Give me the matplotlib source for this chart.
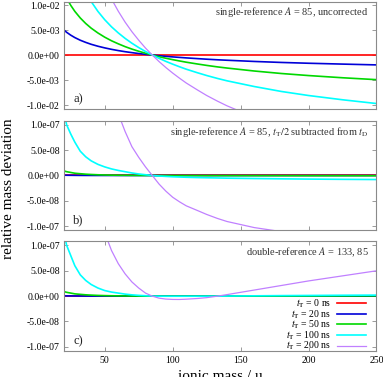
import numpy as np
import matplotlib
matplotlib.use("Agg")
import matplotlib.pyplot as plt
from matplotlib.ticker import FuncFormatter

# ionic mass grid (u)
mass = [20, 22, 25, 28, 32, 36, 40, 45, 50, 55,
        60, 65, 70, 75, 80, 85, 90, 95, 100, 105,
        110, 118, 125, 133, 140, 160, 180, 200, 225, 250]

t_trap = [0, 20, 50, 100, 200]  # ns
colors = ["#ff0000", "#0000d8", "#00d800", "#00ffff", "#c080ff"]

# a) single-reference A=85, uncorrected  (units 1e-3)
a_0 = [0.0] * len(mass)
a_20 = [5.00, 4.54, 3.97, 3.49, 2.96, 2.53, 2.15, 1.76, 1.43, 1.14,
        0.89, 0.67, 0.48, 0.30, 0.14, 0, -0.13, -0.26, -0.37, -0.47,
        -0.57, -0.71, -0.83, -0.95, -1.04, -1.28, -1.48, -1.64, -1.81, -1.97]
a_50 = [12.49, 11.36, 9.93, 8.73, 7.41, 6.31, 5.38, 4.41, 3.57, 2.85,
        2.24, 1.68, 1.19, 0.76, 0.36, 0, -0.34, -0.64, -0.92, -1.18,
        -1.43, -1.78, -2.07, -2.37, -2.60, -3.19, -3.69, -4.10, -4.54, -4.92]
a_100 = [24.8, 22.6, 19.7, 17.3, 14.7, 12.5, 10.7, 8.72, 7.06, 5.64,
         4.42, 3.33, 2.36, 1.50, 0.71, 0, -0.66, -1.27, -1.82, -2.34,
         -2.83, -3.52, -4.09, -4.68, -5.15, -6.29, -7.28, -8.09, -8.94, -9.69]
a_200 = [49.4, 44.9, 39.2, 34.4, 29.2, 24.8, 21.1, 17.3, 14.0, 11.2,
         8.75, 6.58, 4.67, 2.97, 1.40, 0, -1.31, -2.50, -3.60, -4.62,
         -5.59, -6.94, -8.08, -9.22, -10.15, -12.43, -14.37, -15.97, -17.64, -19.12]

# b) single-reference A=85, tT/2 subtracted  (units 1e-7)
b_0 = [0.0] * len(mass)
b_20 = [0.006, 0.005, 0.004, 0.003, 0.002, 0.0015, 0.001, 0.0008, 0.0006, 0.0004,
        0.0003, 0.0002, 0.0001, 0.0001, 0, 0, 0, 0, -0.0001, -0.0001,
        -0.0001, -0.0001, -0.0001, -0.0002, -0.0002, -0.0002, -0.0002, -0.0003, -0.0003, -0.0003]
b_50 = [0.09, 0.075, 0.06, 0.045, 0.035, 0.026, 0.02, 0.014, 0.01, 0.007,
        0.005, 0.0035, 0.002, 0.001, 0.0005, 0, -0.0005, -0.0008, -0.001, -0.0012,
        -0.0015, -0.0018, -0.002, -0.0022, -0.0025, -0.003, -0.0035, -0.004, -0.0045, -0.005]
b_100 = [1.25, 1.0, 0.82, 0.66, 0.48, 0.37, 0.29, 0.22, 0.17, 0.13,
         0.10, 0.075, 0.05, 0.03, 0.015, 0, -0.01, -0.018, -0.025, -0.03,
         -0.035, -0.041, -0.045, -0.049, -0.053, -0.06, -0.066, -0.071, -0.076, -0.08]
b_200 = [25, 20, 14, 10.5, 7.5, 5.5, 4.2, 3.0, 2.2, 1.65,
         1.22, 0.87, 0.57, 0.36, 0.17, 0, -0.17, -0.31, -0.43, -0.52,
         -0.6, -0.69, -0.77, -0.85, -0.91, -1.03, -1.11, -1.2, -1.28, -1.35]

# c) double-reference A=133, 85  (units 1e-7)
c_0 = [0.0] * len(mass)
c_20 = [0.006, 0.005, 0.004, 0.003, 0.002, 0.0015, 0.001, 0.0008, 0.0006, 0.0004,
        0.0003, 0.0002, 0.0001, 0.0001, 0, 0, 0, 0, 0, 0,
        0, 0, 0, 0, 0, 0.0001, 0.0001, 0.0001, 0.0002, 0.0002]
c_50 = [0.09, 0.075, 0.06, 0.045, 0.035, 0.026, 0.02, 0.014, 0.01, 0.007,
        0.005, 0.0035, 0.002, 0.001, 0.0005, 0, -0.0002, -0.0003, -0.0003, -0.0003,
        -0.0003, -0.0003, -0.0002, 0, 0.0003, 0.001, 0.002, 0.003, 0.004, 0.005]
c_100 = [1.25, 1.0, 0.8, 0.6, 0.42, 0.31, 0.23, 0.16, 0.11, 0.08,
         0.06, 0.04, 0.025, 0.015, 0.008, 0, -0.001, -0.002, -0.002, -0.002,
         -0.002, -0.0015, -0.001, 0, 0.002, 0.006, 0.01, 0.013, 0.017, 0.02]
c_200 = [12, 10, 7.5, 5.8, 4.3, 3.2, 2.4, 1.7, 1.25, 0.9,
         0.64, 0.44, 0.28, 0.16, 0.06, 0, -0.04, -0.058, -0.065, -0.066,
         -0.06, -0.047, -0.03, 0, 0.03, 0.12, 0.21, 0.3, 0.4, 0.5]

panels = [
    ([a_0, a_20, a_50, a_100, a_200], 1e-3, 1e-2, 1.07e-2,
     r"single-reference $A$ = 85, uncorrected", "a)"),
    ([b_0, b_20, b_50, b_100, b_200], 1e-7, 1e-7, 1.07e-7,
     r"single-reference $A$ = 85, $t_\mathrm{T}/2$ subtracted from $t_\mathrm{D}$", "b)"),
    ([c_0, c_20, c_50, c_100, c_200], 1e-7, 1e-7, 1.09e-7,
     r"double-reference $A$ = 133, 85", "c)"),
]

plt.rcParams['font.family'] = 'Liberation Serif'
plt.rcParams['mathtext.fontset'] = 'stix'
plt.rcParams['font.size'] = 7

fig = plt.figure(figsize=(3.83, 3.77), dpi=100)
boxes = [(0.996, 0.712), (0.678, 0.391), (0.361, 0.068)]
left, right = 0.167, 0.983
frame = "#8a8a8a"

axes = []
for (top, bottom), (series, scale, tick, lim, note, tag) in zip(boxes, panels):
    ax = fig.add_axes([left, bottom, right - left, top - bottom])
    for vals, tt, col in zip(series, t_trap, colors):
        lw = 0.9 if tt == 200 else 1.2
        ax.plot(mass, np.array(vals) * scale, color=col, lw=lw,
                label=r"$t_\mathrm{T}$ = %d ns" % tt)
    ax.set_xlim(20, 250)
    ax.set_ylim(-lim, lim)
    ax.set_xticks([50, 100, 150, 200, 250])
    ax.set_yticks([-tick, -tick / 2, 0, tick / 2, tick])
    ax.yaxis.set_major_formatter(FuncFormatter(lambda v, p: "%.1e" % v))
    ax.tick_params(direction='in', length=3, width=0.6, color=frame,
                   top=True, right=True, labelsize=7, pad=3)
    for sp in ax.spines.values():
        sp.set_color(frame)
        sp.set_linewidth(0.8)
    ax.text(0.975, 0.9, note, transform=ax.transAxes, ha='right', va='center',
            fontsize=7.5, color='#333333')
    ax.text(0.03, 0.09, tag, transform=ax.transAxes, ha='left', va='center',
            fontsize=9, color='#222222')
    if tag != "c)":
        ax.tick_params(labelbottom=False)
    axes.append(ax)

axes[2].legend(loc='lower right', bbox_to_anchor=(0.965, -0.01), frameon=False,
               markerfirst=False, fontsize=7, handlelength=2.9, handletextpad=0.6,
               labelspacing=-0.2, borderpad=0, borderaxespad=0)

fig.text(0.575, 0.0, "ionic mass / u", ha='center', va='center', fontsize=11)
fig.text(0.022, 0.5, "relative mass deviation", rotation=90, ha='center',
         va='center', fontsize=11)

fig.savefig("out.png", dpi=100)
